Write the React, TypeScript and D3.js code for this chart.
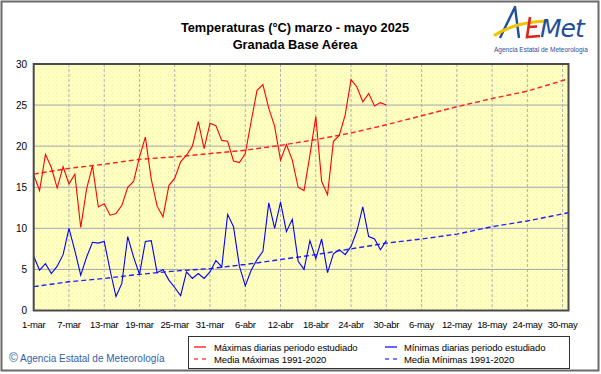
import React from "react";
import * as d3 from "d3";

// Day index 0 = 1-mar
const tickDays = [0, 6, 12, 18, 24, 30, 36, 42, 48, 54, 60, 66, 72, 78, 84, 90];
const tickLabels = ["1-mar", "7-mar", "13-mar", "19-mar", "25-mar", "31-mar", "6-abr", "12-abr", "18-abr", "24-abr", "30-abr", "6-may", "12-may", "18-may", "24-may", "30-may"];
const yTicks = [0, 5, 10, 15, 20, 25, 30];

const maxDaily = [16.5, 14.6, 19.0, 17.4, 14.9, 17.5, 15.4, 16.6, 10.1, 14.8,
  17.6, 12.6, 13.0, 11.6, 11.8, 12.8, 15.0, 15.7, 18.7, 21.1,
  16.0, 12.7, 11.4, 15.2, 16.1, 18.1, 18.9, 20.0, 23.0, 19.7,
  22.8, 22.5, 20.7, 20.6, 18.2, 18.0, 19.1, 23.0, 26.8, 27.5,
  24.6, 22.4, 18.3, 20.2, 18.3, 15.0, 14.6, 18.9, 23.6, 15.7,
  14.1, 20.6, 21.3, 23.8, 28.1, 27.2, 25.4, 26.4, 24.9, 25.3, 25.0];
const minDaily = [6.6, 4.9, 5.7, 4.5, 5.4, 6.8, 10.0, 7.3, 4.3, 6.5,
  8.3, 8.2, 8.4, 4.9, 1.7, 3.3, 9.0, 6.5, 4.4, 8.4,
  8.5, 4.6, 5.0, 3.7, 2.8, 1.8, 4.7, 3.9, 4.5, 3.9,
  4.7, 6.1, 5.3, 11.7, 10.2, 5.4, 3.0, 4.9, 6.2, 7.2,
  13.1, 10.0, 13.2, 9.6, 11.1, 6.0, 5.0, 8.5, 6.3, 8.7,
  4.6, 6.9, 7.4, 6.8, 7.8, 9.7, 12.6, 9.0, 8.7, 7.4, 8.5];

const climDays = [0, 6, 12, 18, 24, 30, 36, 42, 48, 54, 60, 66, 72, 78, 84, 91];
const climMax = [16.6, 17.3, 17.8, 18.4, 18.7, 19.1, 19.5, 20.1, 20.8, 21.6, 22.6, 23.7, 24.8, 25.8, 26.7, 28.2];
const climMin = [2.9, 3.5, 3.9, 4.4, 4.8, 5.1, 5.6, 6.2, 6.8, 7.5, 8.2, 8.7, 9.3, 10.2, 10.9, 11.9];

const W = 601, H = 374;
const PL = 33.7, PR = 568.5, PT = 64, PB = 310.5;
const FONT = "'Liberation Sans', Arial, sans-serif";

export default function App() {
  const x = d3.scaleLinear().domain([0, 91]).range([PL, PR]);
  const y = d3.scaleLinear().domain([0, 30]).range([PB, PT]);
  const line = d3.line<[number, number]>().x((d) => x(d[0])).y((d) => y(d[1]));
  const maxPts = maxDaily.map((v, i) => [i, v] as [number, number]);
  const minPts = minDaily.map((v, i) => [i, v] as [number, number]);
  const cMaxPts = climDays.map((d, i) => [d, climMax[i]] as [number, number]);
  const cMinPts = climDays.map((d, i) => [d, climMin[i]] as [number, number]);

  return (
    <svg width={W} height={H} style={{ position: "absolute", left: 0, top: 0, background: "#fff" }} fontFamily={FONT}>
      <defs>
        <pattern id="speck" width="4" height="4" patternUnits="userSpaceOnUse">
          <rect width="4" height="4" fill="#ffffc2" />
          <rect x="0" y="0" width="1" height="1" fill="#f2f2ac" />
          <rect x="2" y="2" width="1" height="1" fill="#f5f5b4" />
        </pattern>
      </defs>
      <rect x={1.5} y={1.5} width={597} height={369} fill="#fff" stroke="#6a6a6a" strokeWidth={2} />
      {/* Title */}
      <text x={295} y={32} textAnchor="middle" fontSize={12.8} fontWeight="bold" fill="#000">Temperaturas (°C) marzo  - mayo 2025</text>
      <text x={295} y={48.5} textAnchor="middle" fontSize={12.8} fontWeight="bold" fill="#000">Granada Base Aérea</text>
      {/* Logo */}
      <g>
        <path d="M500,38 L515,7 L519,38" fill="none" stroke="#1f4e9c" strokeWidth={2.4} strokeLinejoin="round" />
        <path d="M495,35 Q515,22 547,21" fill="none" stroke="#f2c300" strokeWidth={3} strokeLinecap="round" />
        <path d="M530,17 L527,37 L540,36 M528.5,27 L537,26.5" fill="none" stroke="#d8261c" strokeWidth={2.6} />
        <text x={540} y={37} fontSize={25} fontStyle="italic" fill="#1f4e9c" fontFamily="'DejaVu Sans', sans-serif" letterSpacing={-1}>Met</text>
        <text x={541} y={52} textAnchor="middle" fontSize={6.5} fill="#1f4e9c">Agencia Estatal de Meteorología</text>
      </g>
      {/* Plot area */}
      <rect x={PL} y={PT} width={PR - PL} height={PB - PT} fill="url(#speck)" />
      {yTicks.filter((t) => t > 0 && t < 30).map((t) => (
        <line key={"h" + t} x1={PL} x2={PR} y1={y(t)} y2={y(t)} stroke="#a4a4b4" strokeWidth={1} />
      ))}
      {tickDays.filter((d) => d > 0).map((d) => (
        <line key={"v" + d} x1={x(d)} x2={x(d)} y1={PT} y2={PB} stroke="#b0b0b0" strokeWidth={1} strokeDasharray="3,2" />
      ))}
      <path d={line(cMaxPts) || ""} fill="none" stroke="#ff2020" strokeWidth={1.4} strokeDasharray="5,3" />
      <path d={line(cMinPts) || ""} fill="none" stroke="#2020ff" strokeWidth={1.4} strokeDasharray="5,3" />
      <path d={line(maxPts) || ""} fill="none" stroke="#ff0000" strokeWidth={1.1} />
      <path d={line(minPts) || ""} fill="none" stroke="#0000ff" strokeWidth={1.1} />
      <rect x={PL} y={PT} width={PR - PL} height={PB - PT} fill="none" stroke="#4a4a4a" strokeWidth={2} />
      {/* Y axis labels */}
      {yTicks.map((t) => (
        <text key={"yl" + t} x={27} y={y(t) + 3.5} textAnchor="end" fontSize={10} fill="#000">{t}</text>
      ))}
      {/* X axis labels */}
      {tickDays.map((d, i) => (
        <text key={"xl" + d} x={x(d)} y={328} textAnchor="middle" fontSize={9.5} letterSpacing={-0.3} fill="#000">{tickLabels[i]}</text>
      ))}
      {/* Legend */}
      <rect x={188.5} y={336.5} width={381} height={32} fill="#fff" stroke="#333" strokeWidth={1} />
      <line x1={194} x2={206} y1={347} y2={347} stroke="#ff0000" strokeWidth={1.2} />
      <text x={214} y={350.5} fontSize={9.5} letterSpacing={-0.1} fill="#000">Máximas diarias periodo estudiado</text>
      <line x1={194} x2={198} y1={359} y2={359} stroke="#ff2020" strokeWidth={1.2} />
      <line x1={202} x2={206} y1={359} y2={359} stroke="#ff2020" strokeWidth={1.2} />
      <text x={214} y={362.5} fontSize={9.5} letterSpacing={-0.1} fill="#000">Media Máximas 1991-2020</text>
      <line x1={385} x2={397} y1={347} y2={347} stroke="#0000ff" strokeWidth={1.2} />
      <text x={404} y={350.5} fontSize={9.5} letterSpacing={-0.1} fill="#000">Mínimas diarias periodo estudiado</text>
      <line x1={385} x2={389} y1={359} y2={359} stroke="#2020ff" strokeWidth={1.2} />
      <line x1={393} x2={397} y1={359} y2={359} stroke="#2020ff" strokeWidth={1.2} />
      <text x={404} y={362.5} fontSize={9.5} letterSpacing={-0.1} fill="#000">Media Mínimas 1991-2020</text>
      {/* Copyright */}
      <text x={9} y={362} fontSize={10} fill="#2f5fa8">
        <tspan fontSize={12}>©</tspan> Agencia Estatal de Meteorología
      </text>
    </svg>
  );
}
